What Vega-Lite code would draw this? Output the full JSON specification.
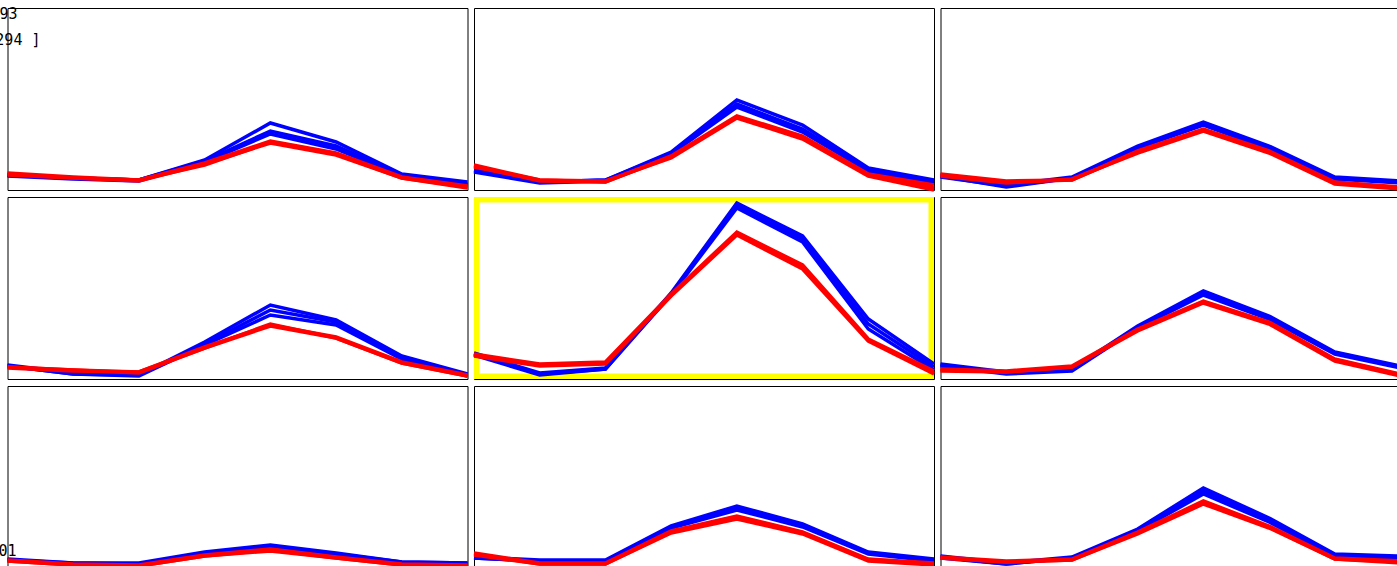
{
  "$schema": "https://vega.github.io/schema/vega-lite/v6.json",
  "padding": {"left": -5.5, "top": 6, "right": 0, "bottom": 0},
  "background": "white",
  "bounds": "flush",
  "config": {"view": {"stroke": "#000000", "strokeWidth": 1}},
  "data": {"values": [
    {"r":0,"c":0,"label":"93"},{"r":0,"c":0,"label":"294 ]"},{"r":2,"c":0,"label":"01"},{"r":1,"c":1,"frame":"yes"},
    {"r":0,"c":0,"s":"b1","g":"blue","i":0,"v":15},{"r":0,"c":0,"s":"b1","g":"blue","i":1,"v":12},{"r":0,"c":0,"s":"b1","g":"blue","i":2,"v":10},{"r":0,"c":0,"s":"b1","g":"blue","i":3,"v":30},{"r":0,"c":0,"s":"b1","g":"blue","i":4,"v":67},{"r":0,"c":0,"s":"b1","g":"blue","i":5,"v":48},{"r":0,"c":0,"s":"b1","g":"blue","i":6,"v":16},{"r":0,"c":0,"s":"b1","g":"blue","i":7,"v":8},
    {"r":0,"c":0,"s":"b2","g":"blue","i":0,"v":15},{"r":0,"c":0,"s":"b2","g":"blue","i":1,"v":12},{"r":0,"c":0,"s":"b2","g":"blue","i":2,"v":10},{"r":0,"c":0,"s":"b2","g":"blue","i":3,"v":29},{"r":0,"c":0,"s":"b2","g":"blue","i":4,"v":59},{"r":0,"c":0,"s":"b2","g":"blue","i":5,"v":44},{"r":0,"c":0,"s":"b2","g":"blue","i":6,"v":15},{"r":0,"c":0,"s":"b2","g":"blue","i":7,"v":6},
    {"r":0,"c":0,"s":"b3","g":"blue","i":0,"v":14},{"r":0,"c":0,"s":"b3","g":"blue","i":1,"v":11},{"r":0,"c":0,"s":"b3","g":"blue","i":2,"v":9},{"r":0,"c":0,"s":"b3","g":"blue","i":3,"v":28},{"r":0,"c":0,"s":"b3","g":"blue","i":4,"v":56},{"r":0,"c":0,"s":"b3","g":"blue","i":5,"v":41},{"r":0,"c":0,"s":"b3","g":"blue","i":6,"v":14},{"r":0,"c":0,"s":"b3","g":"blue","i":7,"v":5},
    {"r":0,"c":0,"s":"r1","g":"red","i":0,"v":17},{"r":0,"c":0,"s":"r1","g":"red","i":1,"v":13},{"r":0,"c":0,"s":"r1","g":"red","i":2,"v":10},{"r":0,"c":0,"s":"r1","g":"red","i":3,"v":27},{"r":0,"c":0,"s":"r1","g":"red","i":4,"v":49},{"r":0,"c":0,"s":"r1","g":"red","i":5,"v":37},{"r":0,"c":0,"s":"r1","g":"red","i":6,"v":13},{"r":0,"c":0,"s":"r1","g":"red","i":7,"v":4},
    {"r":0,"c":0,"s":"r2","g":"red","i":0,"v":16},{"r":0,"c":0,"s":"r2","g":"red","i":1,"v":12},{"r":0,"c":0,"s":"r2","g":"red","i":2,"v":9},{"r":0,"c":0,"s":"r2","g":"red","i":3,"v":26},{"r":0,"c":0,"s":"r2","g":"red","i":4,"v":47},{"r":0,"c":0,"s":"r2","g":"red","i":5,"v":35},{"r":0,"c":0,"s":"r2","g":"red","i":6,"v":12},{"r":0,"c":0,"s":"r2","g":"red","i":7,"v":3},
    {"r":0,"c":0,"s":"r3","g":"red","i":0,"v":15},{"r":0,"c":0,"s":"r3","g":"red","i":1,"v":12},{"r":0,"c":0,"s":"r3","g":"red","i":2,"v":10},{"r":0,"c":0,"s":"r3","g":"red","i":3,"v":25},{"r":0,"c":0,"s":"r3","g":"red","i":4,"v":48},{"r":0,"c":0,"s":"r3","g":"red","i":5,"v":36},{"r":0,"c":0,"s":"r3","g":"red","i":6,"v":12},{"r":0,"c":0,"s":"r3","g":"red","i":7,"v":2},

    {"r":0,"c":1,"s":"b1","g":"blue","i":0,"v":20},{"r":0,"c":1,"s":"b1","g":"blue","i":1,"v":8},{"r":0,"c":1,"s":"b1","g":"blue","i":2,"v":10},{"r":0,"c":1,"s":"b1","g":"blue","i":3,"v":38},{"r":0,"c":1,"s":"b1","g":"blue","i":4,"v":90},{"r":0,"c":1,"s":"b1","g":"blue","i":5,"v":65},{"r":0,"c":1,"s":"b1","g":"blue","i":6,"v":22},{"r":0,"c":1,"s":"b1","g":"blue","i":7,"v":10},
    {"r":0,"c":1,"s":"b2","g":"blue","i":0,"v":19},{"r":0,"c":1,"s":"b2","g":"blue","i":1,"v":8},{"r":0,"c":1,"s":"b2","g":"blue","i":2,"v":10},{"r":0,"c":1,"s":"b2","g":"blue","i":3,"v":37},{"r":0,"c":1,"s":"b2","g":"blue","i":4,"v":86},{"r":0,"c":1,"s":"b2","g":"blue","i":5,"v":61},{"r":0,"c":1,"s":"b2","g":"blue","i":6,"v":20},{"r":0,"c":1,"s":"b2","g":"blue","i":7,"v":8},
    {"r":0,"c":1,"s":"b3","g":"blue","i":0,"v":18},{"r":0,"c":1,"s":"b3","g":"blue","i":1,"v":7},{"r":0,"c":1,"s":"b3","g":"blue","i":2,"v":9},{"r":0,"c":1,"s":"b3","g":"blue","i":3,"v":36},{"r":0,"c":1,"s":"b3","g":"blue","i":4,"v":83},{"r":0,"c":1,"s":"b3","g":"blue","i":5,"v":58},{"r":0,"c":1,"s":"b3","g":"blue","i":6,"v":19},{"r":0,"c":1,"s":"b3","g":"blue","i":7,"v":7},
    {"r":0,"c":1,"s":"r1","g":"red","i":0,"v":25},{"r":0,"c":1,"s":"r1","g":"red","i":1,"v":10},{"r":0,"c":1,"s":"r1","g":"red","i":2,"v":8},{"r":0,"c":1,"s":"r1","g":"red","i":3,"v":34},{"r":0,"c":1,"s":"r1","g":"red","i":4,"v":74},{"r":0,"c":1,"s":"r1","g":"red","i":5,"v":54},{"r":0,"c":1,"s":"r1","g":"red","i":6,"v":16},{"r":0,"c":1,"s":"r1","g":"red","i":7,"v":5},
    {"r":0,"c":1,"s":"r2","g":"red","i":0,"v":24},{"r":0,"c":1,"s":"r2","g":"red","i":1,"v":9},{"r":0,"c":1,"s":"r2","g":"red","i":2,"v":8},{"r":0,"c":1,"s":"r2","g":"red","i":3,"v":33},{"r":0,"c":1,"s":"r2","g":"red","i":4,"v":73},{"r":0,"c":1,"s":"r2","g":"red","i":5,"v":52},{"r":0,"c":1,"s":"r2","g":"red","i":6,"v":15},{"r":0,"c":1,"s":"r2","g":"red","i":7,"v":2},
    {"r":0,"c":1,"s":"r3","g":"red","i":0,"v":23},{"r":0,"c":1,"s":"r3","g":"red","i":1,"v":10},{"r":0,"c":1,"s":"r3","g":"red","i":2,"v":9},{"r":0,"c":1,"s":"r3","g":"red","i":3,"v":32},{"r":0,"c":1,"s":"r3","g":"red","i":4,"v":72},{"r":0,"c":1,"s":"r3","g":"red","i":5,"v":51},{"r":0,"c":1,"s":"r3","g":"red","i":6,"v":14},{"r":0,"c":1,"s":"r3","g":"red","i":7,"v":0},

    {"r":0,"c":2,"s":"b1","g":"blue","i":0,"v":15},{"r":0,"c":2,"s":"b1","g":"blue","i":1,"v":5},{"r":0,"c":2,"s":"b1","g":"blue","i":2,"v":13},{"r":0,"c":2,"s":"b1","g":"blue","i":3,"v":44},{"r":0,"c":2,"s":"b1","g":"blue","i":4,"v":68},{"r":0,"c":2,"s":"b1","g":"blue","i":5,"v":44},{"r":0,"c":2,"s":"b1","g":"blue","i":6,"v":13},{"r":0,"c":2,"s":"b1","g":"blue","i":7,"v":9},
    {"r":0,"c":2,"s":"b2","g":"blue","i":0,"v":14},{"r":0,"c":2,"s":"b2","g":"blue","i":1,"v":3},{"r":0,"c":2,"s":"b2","g":"blue","i":2,"v":12},{"r":0,"c":2,"s":"b2","g":"blue","i":3,"v":43},{"r":0,"c":2,"s":"b2","g":"blue","i":4,"v":66},{"r":0,"c":2,"s":"b2","g":"blue","i":5,"v":42},{"r":0,"c":2,"s":"b2","g":"blue","i":6,"v":12},{"r":0,"c":2,"s":"b2","g":"blue","i":7,"v":8},
    {"r":0,"c":2,"s":"b3","g":"blue","i":0,"v":13},{"r":0,"c":2,"s":"b3","g":"blue","i":1,"v":4},{"r":0,"c":2,"s":"b3","g":"blue","i":2,"v":12},{"r":0,"c":2,"s":"b3","g":"blue","i":3,"v":42},{"r":0,"c":2,"s":"b3","g":"blue","i":4,"v":65},{"r":0,"c":2,"s":"b3","g":"blue","i":5,"v":41},{"r":0,"c":2,"s":"b3","g":"blue","i":6,"v":11},{"r":0,"c":2,"s":"b3","g":"blue","i":7,"v":7},
    {"r":0,"c":2,"s":"r1","g":"red","i":0,"v":16},{"r":0,"c":2,"s":"r1","g":"red","i":1,"v":9},{"r":0,"c":2,"s":"r1","g":"red","i":2,"v":10},{"r":0,"c":2,"s":"r1","g":"red","i":3,"v":39},{"r":0,"c":2,"s":"r1","g":"red","i":4,"v":61},{"r":0,"c":2,"s":"r1","g":"red","i":5,"v":39},{"r":0,"c":2,"s":"r1","g":"red","i":6,"v":8},{"r":0,"c":2,"s":"r1","g":"red","i":7,"v":3},
    {"r":0,"c":2,"s":"r2","g":"red","i":0,"v":15},{"r":0,"c":2,"s":"r2","g":"red","i":1,"v":8},{"r":0,"c":2,"s":"r2","g":"red","i":2,"v":10},{"r":0,"c":2,"s":"r2","g":"red","i":3,"v":38},{"r":0,"c":2,"s":"r2","g":"red","i":4,"v":60},{"r":0,"c":2,"s":"r2","g":"red","i":5,"v":38},{"r":0,"c":2,"s":"r2","g":"red","i":6,"v":7},{"r":0,"c":2,"s":"r2","g":"red","i":7,"v":2},
    {"r":0,"c":2,"s":"r3","g":"red","i":0,"v":14},{"r":0,"c":2,"s":"r3","g":"red","i":1,"v":7},{"r":0,"c":2,"s":"r3","g":"red","i":2,"v":11},{"r":0,"c":2,"s":"r3","g":"red","i":3,"v":37},{"r":0,"c":2,"s":"r3","g":"red","i":4,"v":59},{"r":0,"c":2,"s":"r3","g":"red","i":5,"v":37},{"r":0,"c":2,"s":"r3","g":"red","i":6,"v":6},{"r":0,"c":2,"s":"r3","g":"red","i":7,"v":1},

    {"r":1,"c":0,"s":"b1","g":"blue","i":0,"v":14},{"r":1,"c":0,"s":"b1","g":"blue","i":1,"v":6},{"r":1,"c":0,"s":"b1","g":"blue","i":2,"v":4},{"r":1,"c":0,"s":"b1","g":"blue","i":3,"v":37},{"r":1,"c":0,"s":"b1","g":"blue","i":4,"v":74},{"r":1,"c":0,"s":"b1","g":"blue","i":5,"v":59},{"r":1,"c":0,"s":"b1","g":"blue","i":6,"v":23},{"r":1,"c":0,"s":"b1","g":"blue","i":7,"v":5},
    {"r":1,"c":0,"s":"b2","g":"blue","i":0,"v":13},{"r":1,"c":0,"s":"b2","g":"blue","i":1,"v":5},{"r":1,"c":0,"s":"b2","g":"blue","i":2,"v":4},{"r":1,"c":0,"s":"b2","g":"blue","i":3,"v":35},{"r":1,"c":0,"s":"b2","g":"blue","i":4,"v":69},{"r":1,"c":0,"s":"b2","g":"blue","i":5,"v":57},{"r":1,"c":0,"s":"b2","g":"blue","i":6,"v":21},{"r":1,"c":0,"s":"b2","g":"blue","i":7,"v":4},
    {"r":1,"c":0,"s":"b3","g":"blue","i":0,"v":13},{"r":1,"c":0,"s":"b3","g":"blue","i":1,"v":5},{"r":1,"c":0,"s":"b3","g":"blue","i":2,"v":3},{"r":1,"c":0,"s":"b3","g":"blue","i":3,"v":34},{"r":1,"c":0,"s":"b3","g":"blue","i":4,"v":64},{"r":1,"c":0,"s":"b3","g":"blue","i":5,"v":54},{"r":1,"c":0,"s":"b3","g":"blue","i":6,"v":20},{"r":1,"c":0,"s":"b3","g":"blue","i":7,"v":3},
    {"r":1,"c":0,"s":"r1","g":"red","i":0,"v":12},{"r":1,"c":0,"s":"r1","g":"red","i":1,"v":9},{"r":1,"c":0,"s":"r1","g":"red","i":2,"v":7},{"r":1,"c":0,"s":"r1","g":"red","i":3,"v":32},{"r":1,"c":0,"s":"r1","g":"red","i":4,"v":54},{"r":1,"c":0,"s":"r1","g":"red","i":5,"v":42},{"r":1,"c":0,"s":"r1","g":"red","i":6,"v":17},{"r":1,"c":0,"s":"r1","g":"red","i":7,"v":4},
    {"r":1,"c":0,"s":"r2","g":"red","i":0,"v":11},{"r":1,"c":0,"s":"r2","g":"red","i":1,"v":8},{"r":1,"c":0,"s":"r2","g":"red","i":2,"v":7},{"r":1,"c":0,"s":"r2","g":"red","i":3,"v":31},{"r":1,"c":0,"s":"r2","g":"red","i":4,"v":53},{"r":1,"c":0,"s":"r2","g":"red","i":5,"v":41},{"r":1,"c":0,"s":"r2","g":"red","i":6,"v":16},{"r":1,"c":0,"s":"r2","g":"red","i":7,"v":3},
    {"r":1,"c":0,"s":"r3","g":"red","i":0,"v":12},{"r":1,"c":0,"s":"r3","g":"red","i":1,"v":9},{"r":1,"c":0,"s":"r3","g":"red","i":2,"v":6},{"r":1,"c":0,"s":"r3","g":"red","i":3,"v":31},{"r":1,"c":0,"s":"r3","g":"red","i":4,"v":55},{"r":1,"c":0,"s":"r3","g":"red","i":5,"v":41},{"r":1,"c":0,"s":"r3","g":"red","i":6,"v":16},{"r":1,"c":0,"s":"r3","g":"red","i":7,"v":3},

    {"r":1,"c":1,"s":"b1","g":"blue","i":0,"v":26},{"r":1,"c":1,"s":"b1","g":"blue","i":1,"v":6},{"r":1,"c":1,"s":"b1","g":"blue","i":2,"v":11},{"r":1,"c":1,"s":"b1","g":"blue","i":3,"v":86},{"r":1,"c":1,"s":"b1","g":"blue","i":4,"v":176},{"r":1,"c":1,"s":"b1","g":"blue","i":5,"v":143},{"r":1,"c":1,"s":"b1","g":"blue","i":6,"v":60},{"r":1,"c":1,"s":"b1","g":"blue","i":7,"v":15},
    {"r":1,"c":1,"s":"b2","g":"blue","i":0,"v":25},{"r":1,"c":1,"s":"b2","g":"blue","i":1,"v":5},{"r":1,"c":1,"s":"b2","g":"blue","i":2,"v":10},{"r":1,"c":1,"s":"b2","g":"blue","i":3,"v":85},{"r":1,"c":1,"s":"b2","g":"blue","i":4,"v":173},{"r":1,"c":1,"s":"b2","g":"blue","i":5,"v":140},{"r":1,"c":1,"s":"b2","g":"blue","i":6,"v":55},{"r":1,"c":1,"s":"b2","g":"blue","i":7,"v":12},
    {"r":1,"c":1,"s":"b3","g":"blue","i":0,"v":24},{"r":1,"c":1,"s":"b3","g":"blue","i":1,"v":4},{"r":1,"c":1,"s":"b3","g":"blue","i":2,"v":10},{"r":1,"c":1,"s":"b3","g":"blue","i":3,"v":84},{"r":1,"c":1,"s":"b3","g":"blue","i":4,"v":171},{"r":1,"c":1,"s":"b3","g":"blue","i":5,"v":137},{"r":1,"c":1,"s":"b3","g":"blue","i":6,"v":50},{"r":1,"c":1,"s":"b3","g":"blue","i":7,"v":9},
    {"r":1,"c":1,"s":"r1","g":"red","i":0,"v":25},{"r":1,"c":1,"s":"r1","g":"red","i":1,"v":15},{"r":1,"c":1,"s":"r1","g":"red","i":2,"v":17},{"r":1,"c":1,"s":"r1","g":"red","i":3,"v":85},{"r":1,"c":1,"s":"r1","g":"red","i":4,"v":147},{"r":1,"c":1,"s":"r1","g":"red","i":5,"v":114},{"r":1,"c":1,"s":"r1","g":"red","i":6,"v":40},{"r":1,"c":1,"s":"r1","g":"red","i":7,"v":8},
    {"r":1,"c":1,"s":"r2","g":"red","i":0,"v":24},{"r":1,"c":1,"s":"r2","g":"red","i":1,"v":14},{"r":1,"c":1,"s":"r2","g":"red","i":2,"v":16},{"r":1,"c":1,"s":"r2","g":"red","i":3,"v":84},{"r":1,"c":1,"s":"r2","g":"red","i":4,"v":145},{"r":1,"c":1,"s":"r2","g":"red","i":5,"v":112},{"r":1,"c":1,"s":"r2","g":"red","i":6,"v":39},{"r":1,"c":1,"s":"r2","g":"red","i":7,"v":6},
    {"r":1,"c":1,"s":"r3","g":"red","i":0,"v":23},{"r":1,"c":1,"s":"r3","g":"red","i":1,"v":13},{"r":1,"c":1,"s":"r3","g":"red","i":2,"v":15},{"r":1,"c":1,"s":"r3","g":"red","i":3,"v":83},{"r":1,"c":1,"s":"r3","g":"red","i":4,"v":144},{"r":1,"c":1,"s":"r3","g":"red","i":5,"v":110},{"r":1,"c":1,"s":"r3","g":"red","i":6,"v":38},{"r":1,"c":1,"s":"r3","g":"red","i":7,"v":5},

    {"r":1,"c":2,"s":"b1","g":"blue","i":0,"v":15},{"r":1,"c":2,"s":"b1","g":"blue","i":1,"v":7},{"r":1,"c":2,"s":"b1","g":"blue","i":2,"v":10},{"r":1,"c":2,"s":"b1","g":"blue","i":3,"v":53},{"r":1,"c":2,"s":"b1","g":"blue","i":4,"v":88},{"r":1,"c":2,"s":"b1","g":"blue","i":5,"v":63},{"r":1,"c":2,"s":"b1","g":"blue","i":6,"v":27},{"r":1,"c":2,"s":"b1","g":"blue","i":7,"v":13},
    {"r":1,"c":2,"s":"b2","g":"blue","i":0,"v":14},{"r":1,"c":2,"s":"b2","g":"blue","i":1,"v":6},{"r":1,"c":2,"s":"b2","g":"blue","i":2,"v":9},{"r":1,"c":2,"s":"b2","g":"blue","i":3,"v":52},{"r":1,"c":2,"s":"b2","g":"blue","i":4,"v":86},{"r":1,"c":2,"s":"b2","g":"blue","i":5,"v":62},{"r":1,"c":2,"s":"b2","g":"blue","i":6,"v":26},{"r":1,"c":2,"s":"b2","g":"blue","i":7,"v":12},
    {"r":1,"c":2,"s":"b3","g":"blue","i":0,"v":13},{"r":1,"c":2,"s":"b3","g":"blue","i":1,"v":5},{"r":1,"c":2,"s":"b3","g":"blue","i":2,"v":8},{"r":1,"c":2,"s":"b3","g":"blue","i":3,"v":51},{"r":1,"c":2,"s":"b3","g":"blue","i":4,"v":84},{"r":1,"c":2,"s":"b3","g":"blue","i":5,"v":60},{"r":1,"c":2,"s":"b3","g":"blue","i":6,"v":25},{"r":1,"c":2,"s":"b3","g":"blue","i":7,"v":11},
    {"r":1,"c":2,"s":"r1","g":"red","i":0,"v":10},{"r":1,"c":2,"s":"r1","g":"red","i":1,"v":8},{"r":1,"c":2,"s":"r1","g":"red","i":2,"v":13},{"r":1,"c":2,"s":"r1","g":"red","i":3,"v":50},{"r":1,"c":2,"s":"r1","g":"red","i":4,"v":78},{"r":1,"c":2,"s":"r1","g":"red","i":5,"v":57},{"r":1,"c":2,"s":"r1","g":"red","i":6,"v":20},{"r":1,"c":2,"s":"r1","g":"red","i":7,"v":5},
    {"r":1,"c":2,"s":"r2","g":"red","i":0,"v":9},{"r":1,"c":2,"s":"r2","g":"red","i":1,"v":7},{"r":1,"c":2,"s":"r2","g":"red","i":2,"v":12},{"r":1,"c":2,"s":"r2","g":"red","i":3,"v":49},{"r":1,"c":2,"s":"r2","g":"red","i":4,"v":77},{"r":1,"c":2,"s":"r2","g":"red","i":5,"v":56},{"r":1,"c":2,"s":"r2","g":"red","i":6,"v":19},{"r":1,"c":2,"s":"r2","g":"red","i":7,"v":4},
    {"r":1,"c":2,"s":"r3","g":"red","i":0,"v":8},{"r":1,"c":2,"s":"r3","g":"red","i":1,"v":7},{"r":1,"c":2,"s":"r3","g":"red","i":2,"v":12},{"r":1,"c":2,"s":"r3","g":"red","i":3,"v":48},{"r":1,"c":2,"s":"r3","g":"red","i":4,"v":76},{"r":1,"c":2,"s":"r3","g":"red","i":5,"v":55},{"r":1,"c":2,"s":"r3","g":"red","i":6,"v":18},{"r":1,"c":2,"s":"r3","g":"red","i":7,"v":3},

    {"r":2,"c":0,"s":"b1","g":"blue","i":0,"v":9},{"r":2,"c":0,"s":"b1","g":"blue","i":1,"v":5},{"r":2,"c":0,"s":"b1","g":"blue","i":2,"v":5},{"r":2,"c":0,"s":"b1","g":"blue","i":3,"v":16},{"r":2,"c":0,"s":"b1","g":"blue","i":4,"v":23},{"r":2,"c":0,"s":"b1","g":"blue","i":5,"v":15},{"r":2,"c":0,"s":"b1","g":"blue","i":6,"v":6},{"r":2,"c":0,"s":"b1","g":"blue","i":7,"v":5},
    {"r":2,"c":0,"s":"b2","g":"blue","i":0,"v":8},{"r":2,"c":0,"s":"b2","g":"blue","i":1,"v":5},{"r":2,"c":0,"s":"b2","g":"blue","i":2,"v":4},{"r":2,"c":0,"s":"b2","g":"blue","i":3,"v":15},{"r":2,"c":0,"s":"b2","g":"blue","i":4,"v":22},{"r":2,"c":0,"s":"b2","g":"blue","i":5,"v":14},{"r":2,"c":0,"s":"b2","g":"blue","i":6,"v":6},{"r":2,"c":0,"s":"b2","g":"blue","i":7,"v":5},
    {"r":2,"c":0,"s":"b3","g":"blue","i":0,"v":8},{"r":2,"c":0,"s":"b3","g":"blue","i":1,"v":4},{"r":2,"c":0,"s":"b3","g":"blue","i":2,"v":4},{"r":2,"c":0,"s":"b3","g":"blue","i":3,"v":15},{"r":2,"c":0,"s":"b3","g":"blue","i":4,"v":22},{"r":2,"c":0,"s":"b3","g":"blue","i":5,"v":14},{"r":2,"c":0,"s":"b3","g":"blue","i":6,"v":5},{"r":2,"c":0,"s":"b3","g":"blue","i":7,"v":4},
    {"r":2,"c":0,"s":"r1","g":"red","i":0,"v":8},{"r":2,"c":0,"s":"r1","g":"red","i":1,"v":4},{"r":2,"c":0,"s":"r1","g":"red","i":2,"v":3},{"r":2,"c":0,"s":"r1","g":"red","i":3,"v":13},{"r":2,"c":0,"s":"r1","g":"red","i":4,"v":19},{"r":2,"c":0,"s":"r1","g":"red","i":5,"v":11},{"r":2,"c":0,"s":"r1","g":"red","i":6,"v":4},{"r":2,"c":0,"s":"r1","g":"red","i":7,"v":3},
    {"r":2,"c":0,"s":"r2","g":"red","i":0,"v":7},{"r":2,"c":0,"s":"r2","g":"red","i":1,"v":3},{"r":2,"c":0,"s":"r2","g":"red","i":2,"v":2},{"r":2,"c":0,"s":"r2","g":"red","i":3,"v":12},{"r":2,"c":0,"s":"r2","g":"red","i":4,"v":18},{"r":2,"c":0,"s":"r2","g":"red","i":5,"v":10},{"r":2,"c":0,"s":"r2","g":"red","i":6,"v":3},{"r":2,"c":0,"s":"r2","g":"red","i":7,"v":2},
    {"r":2,"c":0,"s":"r3","g":"red","i":0,"v":7},{"r":2,"c":0,"s":"r3","g":"red","i":1,"v":3},{"r":2,"c":0,"s":"r3","g":"red","i":2,"v":2},{"r":2,"c":0,"s":"r3","g":"red","i":3,"v":12},{"r":2,"c":0,"s":"r3","g":"red","i":4,"v":17},{"r":2,"c":0,"s":"r3","g":"red","i":5,"v":10},{"r":2,"c":0,"s":"r3","g":"red","i":6,"v":3},{"r":2,"c":0,"s":"r3","g":"red","i":7,"v":2},

    {"r":2,"c":1,"s":"b1","g":"blue","i":0,"v":11},{"r":2,"c":1,"s":"b1","g":"blue","i":1,"v":8},{"r":2,"c":1,"s":"b1","g":"blue","i":2,"v":8},{"r":2,"c":1,"s":"b1","g":"blue","i":3,"v":42},{"r":2,"c":1,"s":"b1","g":"blue","i":4,"v":62},{"r":2,"c":1,"s":"b1","g":"blue","i":5,"v":44},{"r":2,"c":1,"s":"b1","g":"blue","i":6,"v":16},{"r":2,"c":1,"s":"b1","g":"blue","i":7,"v":9},
    {"r":2,"c":1,"s":"b2","g":"blue","i":0,"v":10},{"r":2,"c":1,"s":"b2","g":"blue","i":1,"v":7},{"r":2,"c":1,"s":"b2","g":"blue","i":2,"v":7},{"r":2,"c":1,"s":"b2","g":"blue","i":3,"v":41},{"r":2,"c":1,"s":"b2","g":"blue","i":4,"v":60},{"r":2,"c":1,"s":"b2","g":"blue","i":5,"v":42},{"r":2,"c":1,"s":"b2","g":"blue","i":6,"v":15},{"r":2,"c":1,"s":"b2","g":"blue","i":7,"v":8},
    {"r":2,"c":1,"s":"b3","g":"blue","i":0,"v":10},{"r":2,"c":1,"s":"b3","g":"blue","i":1,"v":7},{"r":2,"c":1,"s":"b3","g":"blue","i":2,"v":7},{"r":2,"c":1,"s":"b3","g":"blue","i":3,"v":40},{"r":2,"c":1,"s":"b3","g":"blue","i":4,"v":58},{"r":2,"c":1,"s":"b3","g":"blue","i":5,"v":41},{"r":2,"c":1,"s":"b3","g":"blue","i":6,"v":14},{"r":2,"c":1,"s":"b3","g":"blue","i":7,"v":7},
    {"r":2,"c":1,"s":"r1","g":"red","i":0,"v":15},{"r":2,"c":1,"s":"r1","g":"red","i":1,"v":5},{"r":2,"c":1,"s":"r1","g":"red","i":2,"v":5},{"r":2,"c":1,"s":"r1","g":"red","i":3,"v":37},{"r":2,"c":1,"s":"r1","g":"red","i":4,"v":52},{"r":2,"c":1,"s":"r1","g":"red","i":5,"v":36},{"r":2,"c":1,"s":"r1","g":"red","i":6,"v":9},{"r":2,"c":1,"s":"r1","g":"red","i":7,"v":5},
    {"r":2,"c":1,"s":"r2","g":"red","i":0,"v":14},{"r":2,"c":1,"s":"r2","g":"red","i":1,"v":4},{"r":2,"c":1,"s":"r2","g":"red","i":2,"v":4},{"r":2,"c":1,"s":"r2","g":"red","i":3,"v":36},{"r":2,"c":1,"s":"r2","g":"red","i":4,"v":50},{"r":2,"c":1,"s":"r2","g":"red","i":5,"v":35},{"r":2,"c":1,"s":"r2","g":"red","i":6,"v":8},{"r":2,"c":1,"s":"r2","g":"red","i":7,"v":4},
    {"r":2,"c":1,"s":"r3","g":"red","i":0,"v":13},{"r":2,"c":1,"s":"r3","g":"red","i":1,"v":4},{"r":2,"c":1,"s":"r3","g":"red","i":2,"v":4},{"r":2,"c":1,"s":"r3","g":"red","i":3,"v":35},{"r":2,"c":1,"s":"r3","g":"red","i":4,"v":49},{"r":2,"c":1,"s":"r3","g":"red","i":5,"v":34},{"r":2,"c":1,"s":"r3","g":"red","i":6,"v":7},{"r":2,"c":1,"s":"r3","g":"red","i":7,"v":3},

    {"r":2,"c":2,"s":"b1","g":"blue","i":0,"v":12},{"r":2,"c":2,"s":"b1","g":"blue","i":1,"v":5},{"r":2,"c":2,"s":"b1","g":"blue","i":2,"v":11},{"r":2,"c":2,"s":"b1","g":"blue","i":3,"v":39},{"r":2,"c":2,"s":"b1","g":"blue","i":4,"v":80},{"r":2,"c":2,"s":"b1","g":"blue","i":5,"v":50},{"r":2,"c":2,"s":"b1","g":"blue","i":6,"v":14},{"r":2,"c":2,"s":"b1","g":"blue","i":7,"v":12},
    {"r":2,"c":2,"s":"b2","g":"blue","i":0,"v":11},{"r":2,"c":2,"s":"b2","g":"blue","i":1,"v":4},{"r":2,"c":2,"s":"b2","g":"blue","i":2,"v":10},{"r":2,"c":2,"s":"b2","g":"blue","i":3,"v":38},{"r":2,"c":2,"s":"b2","g":"blue","i":4,"v":77},{"r":2,"c":2,"s":"b2","g":"blue","i":5,"v":48},{"r":2,"c":2,"s":"b2","g":"blue","i":6,"v":13},{"r":2,"c":2,"s":"b2","g":"blue","i":7,"v":11},
    {"r":2,"c":2,"s":"b3","g":"blue","i":0,"v":10},{"r":2,"c":2,"s":"b3","g":"blue","i":1,"v":4},{"r":2,"c":2,"s":"b3","g":"blue","i":2,"v":10},{"r":2,"c":2,"s":"b3","g":"blue","i":3,"v":37},{"r":2,"c":2,"s":"b3","g":"blue","i":4,"v":74},{"r":2,"c":2,"s":"b3","g":"blue","i":5,"v":46},{"r":2,"c":2,"s":"b3","g":"blue","i":6,"v":12},{"r":2,"c":2,"s":"b3","g":"blue","i":7,"v":10},
    {"r":2,"c":2,"s":"r1","g":"red","i":0,"v":11},{"r":2,"c":2,"s":"r1","g":"red","i":1,"v":7},{"r":2,"c":2,"s":"r1","g":"red","i":2,"v":9},{"r":2,"c":2,"s":"r1","g":"red","i":3,"v":36},{"r":2,"c":2,"s":"r1","g":"red","i":4,"v":67},{"r":2,"c":2,"s":"r1","g":"red","i":5,"v":42},{"r":2,"c":2,"s":"r1","g":"red","i":6,"v":10},{"r":2,"c":2,"s":"r1","g":"red","i":7,"v":7},
    {"r":2,"c":2,"s":"r2","g":"red","i":0,"v":10},{"r":2,"c":2,"s":"r2","g":"red","i":1,"v":6},{"r":2,"c":2,"s":"r2","g":"red","i":2,"v":8},{"r":2,"c":2,"s":"r2","g":"red","i":3,"v":35},{"r":2,"c":2,"s":"r2","g":"red","i":4,"v":65},{"r":2,"c":2,"s":"r2","g":"red","i":5,"v":41},{"r":2,"c":2,"s":"r2","g":"red","i":6,"v":9},{"r":2,"c":2,"s":"r2","g":"red","i":7,"v":6},
    {"r":2,"c":2,"s":"r3","g":"red","i":0,"v":10},{"r":2,"c":2,"s":"r3","g":"red","i":1,"v":6},{"r":2,"c":2,"s":"r3","g":"red","i":2,"v":8},{"r":2,"c":2,"s":"r3","g":"red","i":3,"v":34},{"r":2,"c":2,"s":"r3","g":"red","i":4,"v":64},{"r":2,"c":2,"s":"r3","g":"red","i":5,"v":40},{"r":2,"c":2,"s":"r3","g":"red","i":6,"v":9},{"r":2,"c":2,"s":"r3","g":"red","i":7,"v":5}
  ]},
  "facet": {
    "row": {"field": "r", "type": "ordinal", "title": null, "header": {"labels": false, "title": null}},
    "column": {"field": "c", "type": "ordinal", "title": null, "header": {"labels": false, "title": null}}
  },
  "spacing": {"row": 7, "column": 6.5},
  "spec": {
    "width": 460,
    "height": 182,
    "layer": [
      {
        "transform": [{"filter": "datum.frame === 'yes'"}],
        "mark": {"type": "rect", "fill": null, "fillOpacity": 0, "stroke": "#ffff00", "strokeWidth": 11, "clip": true},
        "encoding": {
          "x": {"datum": 0, "type": "quantitative", "scale": {"domain": [0, 7]}, "axis": null},
          "x2": {"datum": 7},
          "y": {"datum": 0, "type": "quantitative", "scale": {"domain": [0, 182]}, "axis": null},
          "y2": {"datum": 182}
        }
      },
      {
        "transform": [{"filter": "datum.g === 'blue'"}],
        "mark": {"type": "line", "color": "#0000ff", "strokeWidth": 3.5},
        "encoding": {
          "x": {"field": "i", "type": "quantitative", "scale": {"domain": [0, 7], "nice": false, "zero": false}, "axis": null},
          "y": {"field": "v", "type": "quantitative", "scale": {"domain": [0, 182], "nice": false}, "axis": null},
          "detail": {"field": "s"}
        }
      },
      {
        "transform": [{"filter": "datum.g === 'red'"}],
        "mark": {"type": "line", "color": "#ff0000", "strokeWidth": 3.5},
        "encoding": {
          "x": {"field": "i", "type": "quantitative", "axis": null},
          "y": {"field": "v", "type": "quantitative", "axis": null},
          "detail": {"field": "s"}
        }
      },
      {
        "transform": [{"filter": "datum.label === '93'"}],
        "mark": {"type": "text", "align": "right", "baseline": "middle", "dx": 10, "font": "DejaVu Sans Mono", "fontSize": 15, "color": "#000000"},
        "encoding": {
          "x": {"datum": 0, "type": "quantitative"},
          "y": {"datum": 176, "type": "quantitative"},
          "text": {"field": "label"}
        }
      },
      {
        "transform": [{"filter": "datum.label === '294 ]'"}],
        "mark": {"type": "text", "align": "right", "baseline": "middle", "dx": 33, "font": "DejaVu Sans Mono", "fontSize": 15, "color": "#000000"},
        "encoding": {
          "x": {"datum": 0, "type": "quantitative"},
          "y": {"datum": 150, "type": "quantitative"},
          "text": {"field": "label"}
        }
      },
      {
        "transform": [{"filter": "datum.label === '01'"}],
        "mark": {"type": "text", "align": "right", "baseline": "middle", "dx": 9, "font": "DejaVu Sans Mono", "fontSize": 15, "color": "#000000"},
        "encoding": {
          "x": {"datum": 0, "type": "quantitative"},
          "y": {"datum": 17, "type": "quantitative"},
          "text": {"field": "label"}
        }
      }
    ]
  }
}
